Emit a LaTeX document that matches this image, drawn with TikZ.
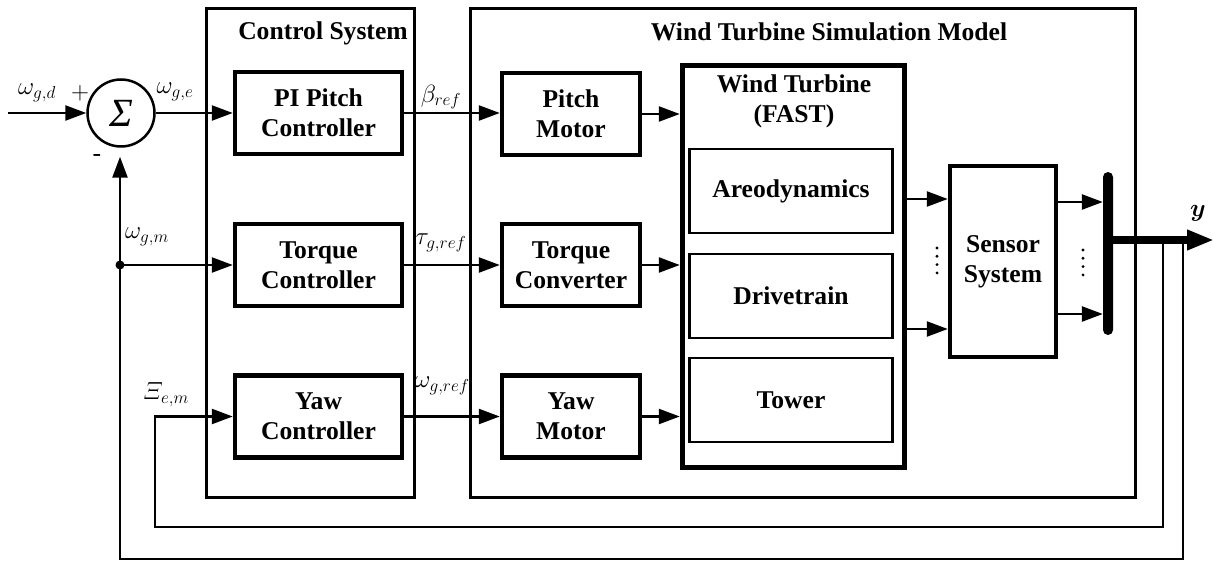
\documentclass[tikz,border=0pt]{standalone}
\usepackage{amsmath,amssymb}
\usepackage{fontspec}
\setmainfont{Liberation Serif}
\usepackage{xcolor}
\usepackage{tikz}
\usetikzlibrary{arrows.meta}
\definecolor{linecolor}{HTML}{000000}
\definecolor{textcolor}{HTML}{000000}
\tikzset{
  >={Triangle[length=21pt,width=15pt]},
  group box/.style={
    rectangle,
    draw=linecolor,
    line width=2.5pt,
    inner sep=0pt
  },
  control block/.style={
    rectangle,
    draw=linecolor,
    line width=4.5pt,
    minimum width=167pt,
    minimum height=82pt,
    inner sep=0pt,
    align=center,
    font=\bfseries\fontsize{25.6}{30}\selectfont
  },
  motor block/.style={
    control block,
    minimum width=138pt
  },
  model block/.style={
    rectangle,
    draw=linecolor,
    line width=2.5pt,
    minimum width=203pt,
    minimum height=84pt,
    inner sep=0pt,
    align=center,
    font=\bfseries\fontsize{25.6}{30}\selectfont
  },
  sum block/.style={
    circle,
    draw=linecolor,
    line width=2.5pt,
    minimum size=67pt,
    inner sep=0pt,
    font=\itshape\fontsize{40}{40}\selectfont
  },
  connection/.style={
    draw=linecolor,
    line width=2.5pt
  },
  box title/.style={
    font=\bfseries\fontsize{25.6}{30}\selectfont,
    text=textcolor,
    align=center
  },
  signal/.style={
    font=\fontsize{25.6}{30}\selectfont,
    text=textcolor,
    inner sep=0pt
  }
}
\newcommand{\dotcolumn}[2]{%
  \foreach \d in {0,1,2,3}{
    \fill[linecolor] (#1,#2+8.3*\d) circle (1.6pt);
  }
}

\begin{document}
\begin{tikzpicture}[x=1pt,y=-1pt]
  \useasboundingbox (0,0) rectangle (1214,561);

  % containers
  \node[group box,minimum width=208pt,minimum height=489pt] (CS) at (310.5,253) {};
  \node[group box,minimum width=665pt,minimum height=489pt] (SM) at (803,253) {};
  \node[box title] (CS-title) at (323,33) {Control System};
  \node[box title] (SM-title) at (829,32) {Wind Turbine Simulation Model};

  \node[sum block] (sum) at (121,113) {Σ};

  \node[control block] (C-1) at (318.5,113) {PI Pitch\\Controller};
  \node[control block] (C-2) at (318.5,265) {Torque\\Controller};
  \node[control block] (C-3) at (318.5,416.5) {Yaw\\Controller};

  \node[motor block] (M-1) at (571,114) {Pitch\\Motor};
  \node[motor block] (M-2) at (571,265) {Torque\\Converter};
  \node[motor block] (M-3) at (571,416.5) {Yaw\\Motor};

  \node[rectangle,draw=linecolor,line width=5.5pt,minimum width=222pt,
    minimum height=402pt] (WT) at (793.5,266.5) {};
  \node[box title] (WT-title) at (794,101) {Wind Turbine\\(FAST)};
  \node[model block] (W-1) at (791,191) {Areodynamics};
  \node[model block] (W-2) at (791,296) {Drivetrain};
  \node[model block] (W-3) at (791,400) {Tower};

  \node[control block,minimum width=106pt,minimum height=191pt] (S) at (1003,261.5)
    {Sensor\\System};
  \node[rectangle,fill=linecolor,rounded corners=5pt,minimum width=10pt,
    minimum height=163pt,inner sep=0pt] (bus) at (1108,253.5) {};

  % forward path
  \coordinate (in) at (8,113);
  \draw[connection,->] (in) -- (sum.west);
  \draw[connection,->] (sum.east) -- (C-1.west);
  \foreach \k in {1,2,3}{
    \draw[connection,->] (C-\k.east) -- (M-\k.west |- C-\k.east);
    \draw[connection,->] (M-\k.east) -- (WT.west |- M-\k.east);
  }
  \draw[connection,->] (WT.east |- 0,199) -- (S.west |- 0,199);
  \draw[connection,->] (WT.east |- 0,329) -- (S.west |- 0,329);
  \draw[connection,->] (S.east |- 0,202) -- (bus.west |- 0,202);
  \draw[connection,->] (S.east |- 0,314) -- (bus.west |- 0,314);
  \dotcolumn{937}{248}
  \dotcolumn{1083}{250}

  \coordinate (out) at (1214,240);
  \draw[draw=linecolor,line width=7pt,-{Triangle[length=27pt,width=19pt]}]
    (bus.center |- out) -- (out);

  % feedback paths
  \coordinate (tap-1) at (1163,240);
  \coordinate (tap-2) at (1183,240);
  \coordinate (junction) at (120,265);
  \draw[connection,->] (tap-1) -- (1163,527) -- (155,527) |- (C-3.west);
  \draw[connection] (tap-2) -- (1183,559) -- (120,559) -- (junction);
  \draw[connection,->,shorten >=9pt] (junction) -- (junction |- sum.south);
  \draw[connection,->] (junction) -- (C-2.west);
  \fill[linecolor] (junction) circle (4.5pt);

  \node[signal] (l-wgd) at (37,93) {$\omega_{g,d}$};
  \node[signal] (l-plus) at (80,93) {$+$};
  \node[signal] (l-minus) at (97,158) {-};
  \node[signal] (l-wge) at (175,92) {$\omega_{g,e}$};
  \node[signal] (l-wgm) at (147,237) {$\omega_{g,m}$};
  \node[signal] (l-xi) at (166,395) {$\varXi_{e,m}$};
  \node[signal] (l-beta) at (441,97) {$\beta_{ref}$};
  \node[signal] (l-tau) at (441,243) {$\tau_{g,ref}$};
  \node[signal] (l-wref) at (442,386) {$\omega_{g,ref}$};
  \node[signal] (l-y) at (1198,213) {$\boldsymbol{y}$};
\end{tikzpicture}
\end{document}
